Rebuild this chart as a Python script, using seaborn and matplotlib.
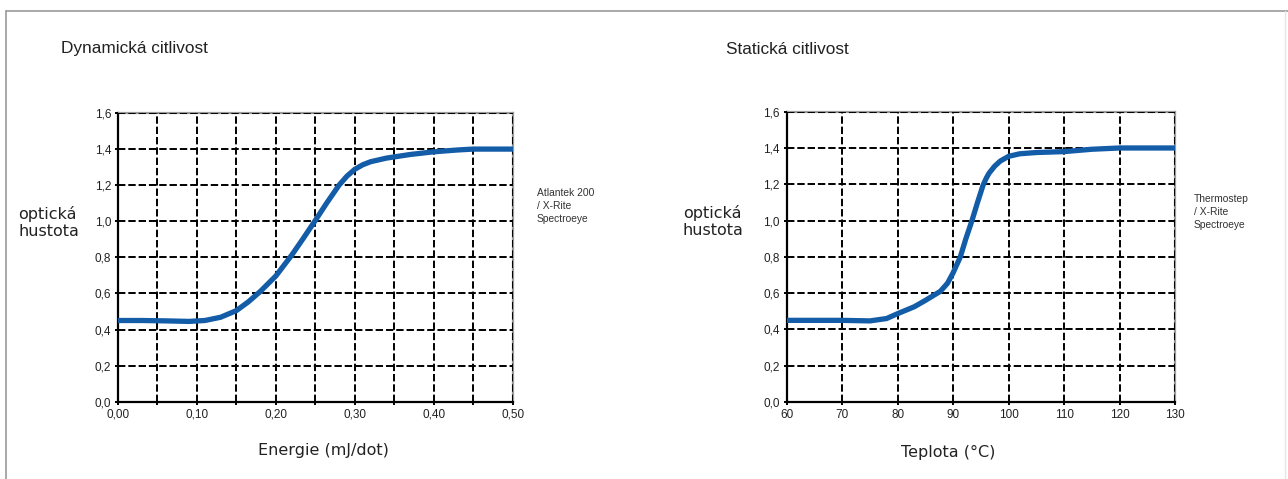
import matplotlib
matplotlib.use("Agg")
import matplotlib.pyplot as plt
from matplotlib.lines import Line2D
import seaborn as sns
import pandas as pd

# ---- data ----
energy = [0.00, 0.03, 0.06, 0.09, 0.11, 0.13, 0.15, 0.165, 0.18, 0.20, 0.22, 0.235,
          0.25, 0.265, 0.28, 0.29, 0.30, 0.31, 0.32, 0.34, 0.37, 0.40, 0.43, 0.45, 0.50]
density_dyn = [0.450, 0.450, 0.448, 0.445, 0.450, 0.468, 0.505, 0.553, 0.610, 0.697, 0.812, 0.907,
               1.005, 1.105, 1.200, 1.250, 1.288, 1.313, 1.330, 1.350, 1.370, 1.385, 1.395, 1.400, 1.400]

temperature = [60, 70, 75, 78, 80, 83, 85, 87.7, 89, 90, 91.3, 92.3, 93.4, 94.4, 95.4,
               96, 96.5, 97.5, 98.5, 100, 102, 105, 110, 115, 120, 130]
density_stat = [0.450, 0.450, 0.447, 0.460, 0.487, 0.525, 0.560, 0.610, 0.655, 0.712, 0.800, 0.900,
                1.000, 1.100, 1.195, 1.235, 1.262, 1.300, 1.328, 1.354, 1.368, 1.375, 1.380, 1.393, 1.400, 1.400]

y_ticks = [0.0, 0.2, 0.4, 0.6, 0.8, 1.0, 1.2, 1.4, 1.6]
y_labels = ["0,0", "0,2", "0,4", "0,6", "0,8", "1,0", "1,2", "1,4", "1,6"]
x_ticks_dyn = [0.00, 0.10, 0.20, 0.30, 0.40, 0.50]
x_labels_dyn = ["0,00", "0,10", "0,20", "0,30", "0,40", "0,50"]
x_minor_dyn = [0.05, 0.15, 0.25, 0.35, 0.45]
x_ticks_stat = [60, 70, 80, 90, 100, 110, 120, 130]
x_labels_stat = ["60", "70", "80", "90", "100", "110", "120", "130"]

title_dyn = "Dynamická citlivost"
title_stat = "Statická citlivost"
ylabel = "optická\nhustota"
xlabel_dyn = "Energie (mJ/dot)"
xlabel_stat = "Teplota (°C)"
note_dyn = "Atlantek 200\n/ X-Rite\nSpectroeye"
note_stat = "Thermostep\n/ X-Rite\nSpectroeye"

sns.set_style("white")
plt.rcParams["font.family"] = ["Liberation Sans", "DejaVu Sans"]

W, H = 1288, 479
fig = plt.figure(figsize=(W / 100, H / 100), dpi=100)

def fx(px):
    return px / W

def fy(py):
    return 1 - py / H

curve_color = "#135ca8"
grid_kw = dict(color="black", linestyle=(0, (3.8, 1.5)), linewidth=1.4)

def make_axes(rect, xdata, ydata, xlim, xticks, xlabels, xminor):
    ax = fig.add_axes(rect)
    df = pd.DataFrame({"x": xdata, "y": ydata})
    sns.lineplot(data=df, x="x", y="y", ax=ax, color=curve_color, linewidth=3.8,
                 zorder=4, sort=False)
    ax.set_xlim(*xlim)
    ax.set_ylim(0, 1.6)
    ax.set_yticks(y_ticks)
    ax.set_yticklabels(y_labels)
    ax.set_xticks(xticks)
    ax.set_xticklabels(xlabels)
    if xminor:
        ax.set_xticks(xminor, minor=True)
    ax.set_xlabel("")
    ax.set_ylabel("")
    ax.set_axisbelow(False)
    ax.grid(True, which="both", axis="both", **grid_kw)
    for s in ["left", "bottom"]:
        ax.spines[s].set_color("black")
        ax.spines[s].set_linewidth(1.6)
    for s in ["top", "right"]:
        ax.spines[s].set_color("#9a9a9a")
        ax.spines[s].set_linewidth(1.6)
    ax.tick_params(axis="both", which="both", direction="out", length=2.5, width=1.4,
                   color="black", labelsize=8.5, pad=2.5, left=True, bottom=True)
    for lab in ax.get_xticklabels() + ax.get_yticklabels():
        lab.set_color("#222222")
    return ax

ax1 = make_axes([fx(118), fy(401.7), fx(512.7 - 118), (401.7 - 113) / H],
                energy, density_dyn, (0, 0.5), x_ticks_dyn, x_labels_dyn, x_minor_dyn)
ax2 = make_axes([fx(786.7), fy(402), fx(1175 - 786.7), (402 - 111.7) / H],
                temperature, density_stat, (60, 130), x_ticks_stat, x_labels_stat, None)

# titles
fig.text(fx(61), fy(49), title_dyn, fontsize=12.4, color="#222222", va="center", ha="left")
fig.text(fx(726), fy(49), title_stat, fontsize=12.4, color="#222222", va="center", ha="left")

# y labels
fig.text(fx(18), fy(222.5), ylabel, fontsize=11.5, color="#222222", va="center", ha="left",
         family=["DejaVu Sans"], linespacing=1.2)
fig.text(fx(683), fy(221.5), ylabel, fontsize=11.5, color="#222222", va="center", ha="left",
         family=["DejaVu Sans"], linespacing=1.2)

# x labels
fig.text(fx(323), fy(450), xlabel_dyn, fontsize=11.5, color="#222222", va="center", ha="center",
         family=["DejaVu Sans"])
fig.text(fx(948), fy(452), xlabel_stat, fontsize=11.5, color="#222222", va="center", ha="center",
         family=["DejaVu Sans"])

# notes
fig.text(fx(537), fy(206), note_dyn, fontsize=7.4, color="#333333", va="center", ha="left",
         linespacing=1.35)
fig.text(fx(1194), fy(212), note_stat, fontsize=7.4, color="#333333", va="center", ha="left",
         linespacing=1.35)

# frame lines
fig.add_artist(Line2D([fx(6), 1], [fy(11), fy(11)], color="#9a9a9a", linewidth=1.2))
fig.add_artist(Line2D([fx(6), fx(6)], [0, fy(11)], color="#9a9a9a", linewidth=1.2))
fig.add_artist(Line2D([fx(1285), fx(1285)], [0, fy(11)], color="#e6e6e6", linewidth=1.0))

fig.savefig("out.png", dpi=100)
